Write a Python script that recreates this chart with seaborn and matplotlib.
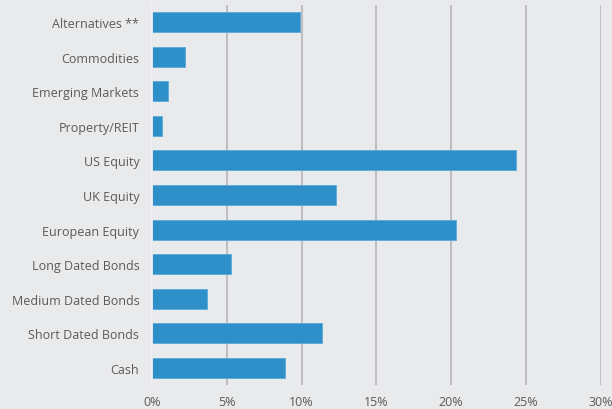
import pandas as pd
import seaborn as sns
import matplotlib.pyplot as plt
from matplotlib.ticker import FuncFormatter

categories = ['Alternatives **', 'Commodities', 'Emerging Markets', 'Property/REIT',
              'US Equity', 'UK Equity', 'European Equity', 'Long Dated Bonds',
              'Medium Dated Bonds', 'Short Dated Bonds', 'Cash']
weights = [9.9, 2.2, 1.1, 0.7, 24.3, 12.3, 20.3, 5.3, 3.7, 11.4, 8.9]

df = pd.DataFrame({'category': categories, 'weight': weights})

bg = '#E9EAEC'
sns.set_theme(style="white")
plt.rcParams['font.family'] = ['Open Sans', 'DejaVu Sans']

fig = plt.figure(figsize=(6.12, 4.10), dpi=100, facecolor=bg)
ax = fig.add_axes([0.248, 0.058, 0.734, 0.928], facecolor=bg)

sns.barplot(data=df, x='weight', y='category', color='#2E8FC9', width=0.58,
            saturation=1, ax=ax, zorder=3, edgecolor='#5AA9DA', linewidth=0.6)

ax.set_xlim(0, 30)
ax.set_xticks(range(0, 31, 5))
ax.xaxis.set_major_formatter(FuncFormatter(lambda v, p: f'{v:.0f}%'))
ax.grid(axis='x', color='#BEBCBE', linewidth=1.4, zorder=0)
ax.grid(axis='y', visible=False)
for s in ['top', 'right', 'bottom']:
    ax.spines[s].set_visible(False)
ax.spines['left'].set_color('#F4F4F6')
ax.spines['left'].set_linewidth(1.2)
ax.spines['left'].set_zorder(4)
ax.set_xlabel('')
ax.set_ylabel('')
ax.tick_params(axis='both', length=0, labelsize=9, labelcolor='#5A5A5A')
ax.tick_params(axis='x', pad=7)
ax.tick_params(axis='y', pad=9)

fig.savefig('out.png', dpi=100, facecolor=bg)
